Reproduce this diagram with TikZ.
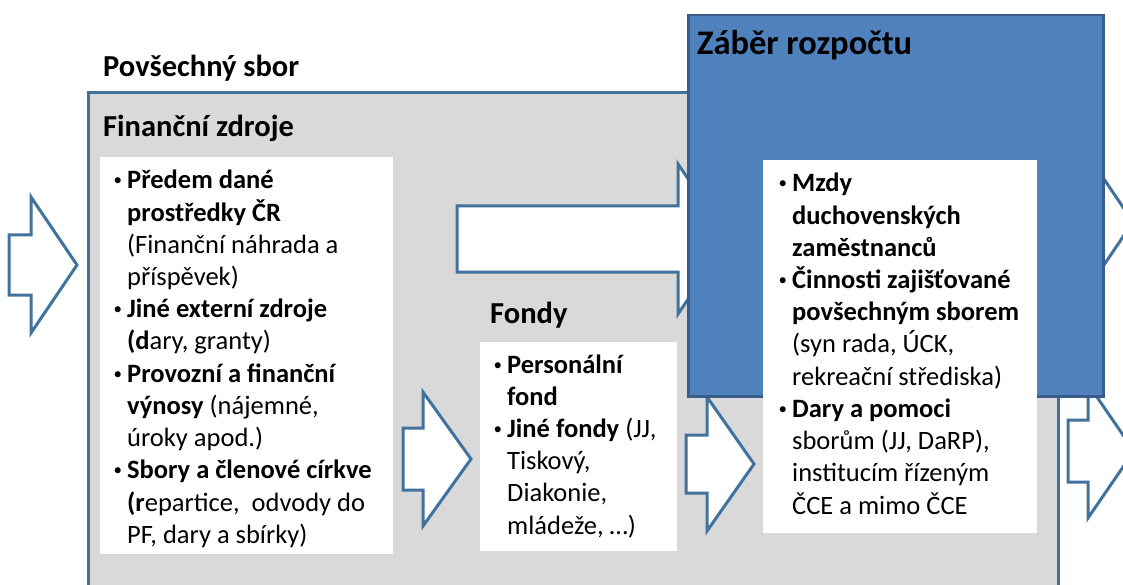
\documentclass[tikz,border=0pt]{standalone}
\usepackage{fontspec}
\setmainfont{Carlito}
\definecolor{grayfill}{HTML}{D9D9D9}
\definecolor{arrowline}{HTML}{41719C}
\definecolor{bluefill}{HTML}{4F81BD}
\definecolor{blueline}{HTML}{385D8A}
\tikzset{
  graybox/.style={fill=grayfill, draw=arrowline, line width=3pt, anchor=north west, inner sep=0pt},
  bluebox/.style={fill=bluefill, draw=blueline, line width=2.5pt, anchor=north west, inner sep=0pt},
  whitebox/.style={fill=white, draw=none, anchor=north west, inner sep=0pt},
  barrow/.style={fill=white, draw=arrowline, line width=3pt, line join=miter},
  ttl/.style={anchor=base west, inner sep=0pt, font=\fontsize{30.5}{36}\selectfont\bfseries},
  bigttl/.style={anchor=base west, inner sep=0pt, font=\fontsize{34.5}{40}\selectfont\bfseries},
  body/.style={anchor=base west, inner sep=0pt, font=\fontsize{26.5}{32.2}\selectfont},
}
\newcommand\blockarr[6]{\draw[barrow] (#1,{#4-#5}) -- (#2,{#4-#5}) -- (#2,{#4-#6}) -- (#3,#4) -- (#2,{#4+#6}) -- (#2,{#4+#5}) -- (#1,{#4+#5}) -- cycle;}
\newcommand\bul{\leavevmode\llap{\raisebox{3pt}{\fontsize{17}{17}\selectfont\mdseries •}\hspace{5pt}}}
\begin{document}
\begin{tikzpicture}[x=1pt,y=-1pt]
\useasboundingbox (0,0) rectangle (1123,585);
% main gray frame
\node[graybox, minimum width=970pt, minimum height=515pt] (sbor) at (87,91) {};
% arrows
\blockarr{9}{31}{77}{265}{30}{68}
\blockarr{403}{423}{471}{459}{31}{67}
\blockarr{457}{678}{729}{239}{33}{75}
\blockarr{686}{707}{754}{464}{29}{67}
\blockarr{1060}{1087}{1133}{222}{31}{68}
\blockarr{1068}{1088}{1134}{451}{31}{67}
% white boxes
\node[whitebox, minimum width=293pt, minimum height=397pt] (zdroje) at (100,157) {};
\node[whitebox, minimum width=197pt, minimum height=209pt] (fondy) at (480,342) {};
% blue box
\node[bluebox, minimum width=415pt, minimum height=381pt] (zaber) at (687,14) {};
\node[whitebox, minimum width=274pt, minimum height=373pt] (vydaje) at (763,160) {};
% titles
\node[ttl] (tpov) at (103,77) {Povšechný sbor};
\node[ttl] (tfin) at (103,137) {Finanční zdroje};
\node[ttl] (tfon) at (490,323) {Fondy};
\node[bigttl] (tzab) at (697,55) {Záběr rozpočtu};
% texts
\node[body] (t1) at (127,189) {\begin{minipage}[t]{320pt}\raggedright
\bul\textbf{Předem dané}\\ \textbf{prostředky ČR}\\ (Finanční náhrada a\\ příspěvek)\par
\bul\textbf{Jiné externí zdroje}\\ \textbf{(d}ary, granty)\par
\bul\textbf{Provozní a finanční}\\ \textbf{výnosy} (nájemné,\\ úroky apod.)\par
\bul\textbf{Sbory a členové církve}\\ \textbf{(r}epartice,\ \ odvody do\\ PF, dary a sbírky)
\end{minipage}};
\node[body] (t2) at (507,373) {\begin{minipage}[t]{320pt}\raggedright
\bul\textbf{Personální}\\ \textbf{fond}\par
\bul\textbf{Jiné fondy} (JJ,\\ Tiskový,\\ Diakonie,\\ mládeže, …)
\end{minipage}};
\node[body] (t3) at (792,192) {\begin{minipage}[t]{320pt}\raggedright
\bul\textbf{Mzdy}\\ \textbf{duchovenských}\\ \textbf{zaměstnanců}\par
\bul\textbf{Činnosti zajišťované}\\ \textbf{povšechným sborem}\\ (syn rada, ÚCK,\\ rekreační střediska)\par
\bul\textbf{Dary a pomoci}\\ sborům (JJ, DaRP),\\ institucím řízeným\\ ČCE a mimo ČCE
\end{minipage}};
\end{tikzpicture}
\end{document}
